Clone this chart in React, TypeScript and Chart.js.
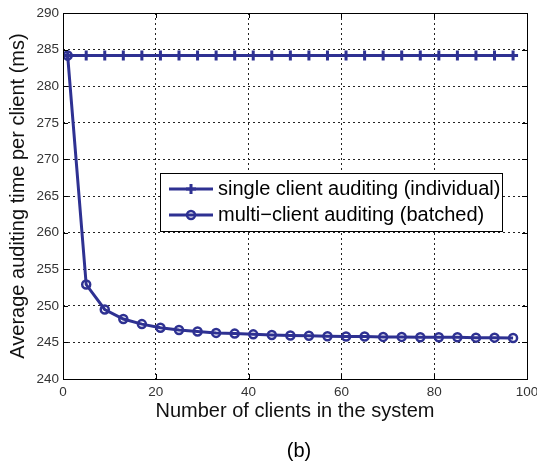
import { useEffect, useRef } from "react";
import { Chart, registerables } from "chart.js";

Chart.register(...registerables);

const clients = [1, 5, 9, 13, 17, 21, 25, 29, 33, 37, 41, 45, 49, 53, 57, 61, 65, 69, 73, 77, 81, 85, 89, 93, 97];
const singleClient = [
  284.2, 284.2, 284.2, 284.2, 284.2, 284.2, 284.2, 284.2, 284.2, 284.2, 284.2, 284.2, 284.2,
  284.2, 284.2, 284.2, 284.2, 284.2, 284.2, 284.2, 284.2, 284.2, 284.2, 284.2, 284.2,
];
const multiClient = [
  284.2, 252.9, 249.5, 248.2, 247.5, 247.0, 246.7, 246.5, 246.3, 246.2, 246.1, 246.0, 245.95,
  245.9, 245.85, 245.8, 245.8, 245.75, 245.75, 245.7, 245.7, 245.7, 245.65, 245.65, 245.6,
];
const xTicks = [0, 20, 40, 60, 80, 100];
const yTicks = [240, 245, 250, 255, 260, 265, 270, 275, 280, 285, 290];
const seriesLabels = ["single client auditing (individual)", "multi\u2212client auditing (batched)"];
const xTitle = "Number of clients in the system";
const yTitle = "Average auditing time per client (ms)";
const caption = "(b)";

const BLUE = "#2e3192";
const FONT = "'Liberation Sans', Arial, Helvetica, sans-serif";

const framePlugin = {
  id: "frame",
  beforeDraw(chart: any) {
    const { ctx, width, height } = chart;
    ctx.save();
    ctx.fillStyle = "#fff";
    ctx.fillRect(0, 0, width, height);
    ctx.restore();
  },
  afterDraw(chart: any) {
    const { ctx, chartArea: ca, scales } = chart;
    ctx.save();
    ctx.setLineDash([]);
    ctx.strokeStyle = "#000";
    ctx.lineWidth = 1;
    ctx.strokeRect(Math.round(ca.left) + 0.5, Math.round(ca.top) + 0.5, Math.round(ca.width), Math.round(ca.height));
    const tl = 5;
    ctx.beginPath();
    xTicks.forEach((v) => {
      const x = Math.round(scales.x.getPixelForValue(v)) + 0.5;
      ctx.moveTo(x, ca.bottom);
      ctx.lineTo(x, ca.bottom - tl);
      ctx.moveTo(x, ca.top);
      ctx.lineTo(x, ca.top + tl);
    });
    yTicks.forEach((v) => {
      const y = Math.round(scales.y.getPixelForValue(v)) + 0.5;
      ctx.moveTo(ca.left, y);
      ctx.lineTo(ca.left + tl, y);
      ctx.moveTo(ca.right, y);
      ctx.lineTo(ca.right - tl, y);
    });
    ctx.stroke();

    // legend
    const bx = ca.left + 97;
    const by = ca.top + 160;
    const bw = 342;
    const bh = 58;
    ctx.fillStyle = "#fff";
    ctx.fillRect(bx, by, bw, bh);
    ctx.strokeStyle = "#000";
    ctx.lineWidth = 1;
    ctx.strokeRect(Math.round(bx) + 0.5, Math.round(by) + 0.5, bw, bh);
    const rows = [by + 16, by + 42];
    seriesLabels.forEach((label, i) => {
      const y = rows[i];
      const x0 = bx + 9;
      const x1 = bx + 53;
      const xm = (x0 + x1) / 2;
      ctx.strokeStyle = BLUE;
      ctx.lineWidth = 3;
      ctx.beginPath();
      ctx.moveTo(x0, y);
      ctx.lineTo(x1, y);
      ctx.stroke();
      ctx.beginPath();
      if (i === 0) {
        ctx.lineWidth = 3;
        ctx.moveTo(xm - 5, y);
        ctx.lineTo(xm + 5, y);
        ctx.moveTo(xm, y - 5);
        ctx.lineTo(xm, y + 5);
      } else {
        ctx.lineWidth = 2.5;
        ctx.arc(xm, y, 4, 0, Math.PI * 2);
      }
      ctx.stroke();
      ctx.fillStyle = "#000";
      ctx.font = `20px ${FONT}`;
      ctx.textAlign = "left";
      ctx.textBaseline = "middle";
      ctx.fillText(label, bx + 58, y);
    });

    // caption
    ctx.fillStyle = "#000";
    ctx.font = `20px ${FONT}`;
    ctx.textAlign = "center";
    ctx.textBaseline = "middle";
    ctx.fillText(caption, (ca.left + ca.right) / 2 + 4, 451);
    ctx.restore();
  },
};

export default function App() {
  const ref = useRef<HTMLCanvasElement | null>(null);
  useEffect(() => {
    if (!ref.current) return;
    const chart = new Chart(ref.current, {
      type: "line",
      data: {
        datasets: [
          {
            label: seriesLabels[0],
            data: clients.map((c, i) => ({ x: c, y: singleClient[i] })),
            borderColor: BLUE,
            backgroundColor: BLUE,
            borderWidth: 3,
            pointStyle: "cross",
            pointRadius: 5,
            pointBorderWidth: 3,
            pointBorderColor: BLUE,
            pointBackgroundColor: BLUE,
            tension: 0,
          },
          {
            label: seriesLabels[1],
            data: clients.map((c, i) => ({ x: c, y: multiClient[i] })),
            borderColor: BLUE,
            backgroundColor: "rgba(0,0,0,0)",
            borderWidth: 3,
            pointStyle: "circle",
            pointRadius: 4,
            pointBorderWidth: 2.5,
            pointBorderColor: BLUE,
            pointBackgroundColor: "rgba(0,0,0,0)",
            tension: 0,
          },
        ],
      },
      options: {
        animation: false,
        responsive: false,
        devicePixelRatio: 1,
        layout: { padding: { left: 0, right: 10, top: 13, bottom: 0 } },
        plugins: { legend: { display: false }, tooltip: { enabled: false } },
        scales: {
          x: {
            type: "linear",
            min: 0,
            max: 100,
            afterBuildTicks: (s: any) => {
              s.ticks = xTicks.map((v) => ({ value: v }));
            },
            afterFit: (s: any) => {
              s.height = 86;
              s.paddingLeft = 0;
              s.paddingRight = 0;
            },
            grid: { color: "#222", lineWidth: 1, drawTicks: false },
            border: { display: false, dash: [2, 3] },
            ticks: {
              padding: 5,
              color: "#333",
              font: { family: FONT, size: 13.5 },
              maxRotation: 0,
            },
            title: {
              display: true,
              text: xTitle,
              color: "#111",
              font: { family: FONT, size: 20 },
              padding: { top: 0, bottom: 42 },
            },
          },
          y: {
            type: "linear",
            min: 240,
            max: 290,
            afterBuildTicks: (s: any) => {
              s.ticks = yTicks.map((v) => ({ value: v }));
            },
            afterFit: (s: any) => {
              s.width = 63;
              s.paddingTop = 0;
              s.paddingBottom = 0;
            },
            grid: { color: "#222", lineWidth: 1, drawTicks: false },
            border: { display: false, dash: [2, 3] },
            ticks: {
              padding: 4,
              color: "#333",
              font: { family: FONT, size: 13.5 },
            },
            title: {
              display: true,
              text: yTitle,
              color: "#111",
              font: { family: FONT, size: 20 },
              padding: { top: 6.5, bottom: 0 },
            },
          },
        },
      },
      plugins: [framePlugin],
    });
    return () => chart.destroy();
  }, []);
  return (
    <div style={{ position: "absolute", left: 0, top: 0, width: 537, height: 465 }}>
      <canvas ref={ref} width={537} height={465} />
    </div>
  );
}
